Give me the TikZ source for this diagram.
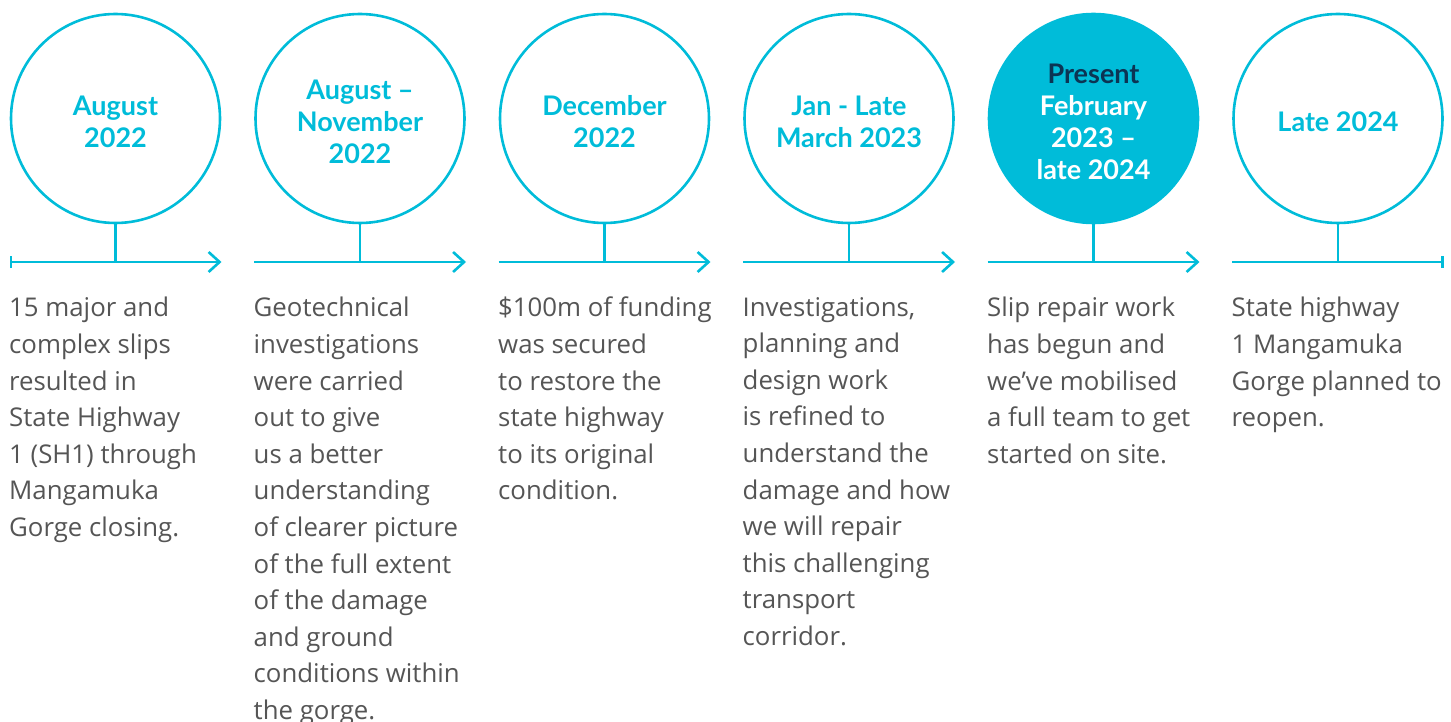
\documentclass[tikz,border=0pt]{standalone}
\usepackage{fontspec}
\setmainfont{Lato}
\newfontfamily\bodyfont{Open Sans}
\usetikzlibrary{arrows.meta}
\definecolor{tcyan}{RGB}{0,188,217}
\definecolor{tnavy}{RGB}{12,52,84}
\definecolor{tgray}{RGB}{85,85,85}
\tikzset{
  event/.style={circle, draw=tcyan, line width=2.6pt, minimum size=209pt, inner sep=0pt},
  nowevent/.style={event, fill=tcyan},
  heading/.style={inner sep=0pt, text=tcyan, align=center, font=\fontsize{27}{32}\selectfont\bfseries},
  nowheading/.style={heading, text=white},
  axisline/.style={draw=tcyan, line width=2.6pt},
  stem/.style={draw=tcyan, line width=2.6pt},
  desc/.style={anchor=north west, inner sep=0pt, align=left, text=tgray,
    font=\bodyfont\fontsize{25.8}{36.6}\selectfont, execute at begin node={\rule{0pt}{20pt}}},
  tip/.style={-{Straight Barb[length=11pt,width=20pt,line width=2.6pt]}},
  bartip/.style={{Bar[width=12pt,line width=2.6pt]}-}
}
\begin{document}
\begin{tikzpicture}[x=1pt,y=-1pt]
\useasboundingbox (0,0) rectangle (1451,722);
% circles
\foreach \i/\x in {1/115.5,2/360,3/604.5,4/849,6/1338}{
  \node[event] (c\i) at (\x,118.5) {};
}
\node[nowevent] (c5) at (1093.5,118.5) {};
\node[heading] (h1) at ([yshift=-3pt]c1.center) {August\\2022};
\node[heading] (h2) at ([yshift=-3pt]c2.center) {August –\\November\\2022};
\node[heading] (h3) at ([yshift=-3pt]c3.center) {December\\2022};
\node[heading] (h4) at ([yshift=-3pt]c4.center) {Jan - Late\\March 2023};
\node[nowheading] (h5) at ([yshift=-3pt]c5.center) {\textcolor{tnavy}{Present}\\February\\2023 –\\late 2024};
\node[heading] (h6) at ([yshift=-3pt]c6.center) {Late 2024};
% axis coordinates
\foreach \i/\x in {1/115.5,2/360,3/604.5,4/849,5/1093.5,6/1338}{
  \coordinate (m\i) at (\x,262);
  \coordinate (s\i) at (\x-106,262);
  \coordinate (e\i) at (\x+106,262);
  \draw[stem] (c\i) -- (m\i);
}
\draw[axisline, bartip] (s1) -- (m1);
\draw[axisline, tip] (m1) -- (e1);
\foreach \i in {2,3,4,5}{
  \draw[axisline] (s\i) -- (m\i);
  \draw[axisline, tip] (m\i) -- (e\i);
}
\draw[axisline] (s6) -- (m6);
\draw[axisline, {-Bar[width=12pt,line width=2.6pt]}] (m6) -- (e6);
% descriptions
\node[desc] (t1) at (9,297) {15 major and\\complex slips\\resulted in\\State Highway\\1 (SH1) through\\Mangamuka\\Gorge closing.};
\node[desc] (t2) at (253.5,297) {Geotechnical\\investigations\\were carried\\out to give\\us a better\\understanding\\of clearer picture\\of the full extent\\of the damage\\and ground\\conditions within\\the gorge.};
\node[desc] (t3) at (498,297) {\$100m of funding\\was secured\\to restore the\\state highway\\to its original\\condition.};
\node[desc] (t4) at (742.5,297) {Investigations,\\planning and\\design work\\is refined to\\understand the\\damage and how\\we will repair\\this challenging\\transport\\corridor.};
\node[desc] (t5) at (987,297) {Slip repair work\\has begun and\\we’ve mobilised\\a full team to get\\started on site.};
\node[desc] (t6) at (1231.5,297) {State highway\\1 Mangamuka\\Gorge planned to\\reopen.};
\end{tikzpicture}
\end{document}
